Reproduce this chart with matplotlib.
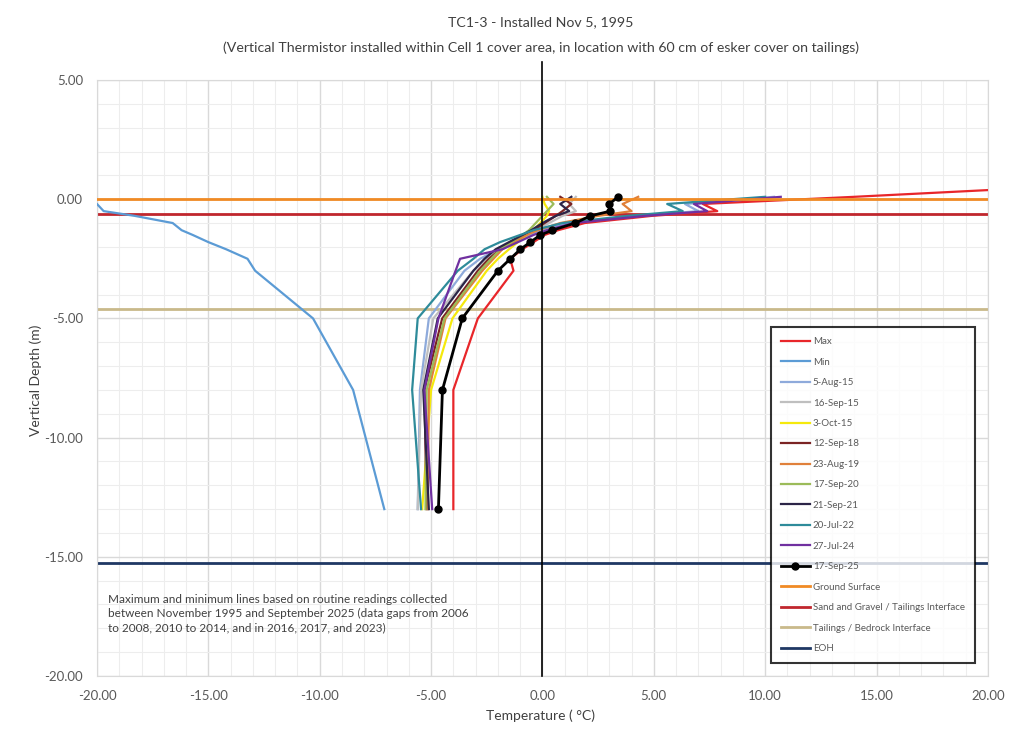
import numpy as np
import matplotlib
matplotlib.use("Agg")
import matplotlib.pyplot as plt
from matplotlib.ticker import MultipleLocator, FormatStrFormatter

plt.rcParams['font.family'] = ['Lato', 'DejaVu Sans']

# thermistor node depths (m); first node only used by the Max line
depth = [0.5, 0.1, -0.2, -0.5, -0.7, -1.0, -1.3, -1.5, -1.8, -2.1, -2.5, -3.0, -5.0, -8.0, -13.0]
nan = np.nan

max_temp = [22.5, 14.0, 7.2, 7.85, 4.9, 1.9, 0.7, 0.1, -0.4, -0.9, -1.45, -1.3, -2.9, -4.0, -4.0]
min_temp = [nan, -20.5, -20.0, -19.7, -18.3, -16.6, -16.2, -15.7, -15.0, -14.2, -13.24, -12.9, -10.3, -8.5, -7.1]

profile_labels = ['5-Aug-15', '16-Sep-15', '3-Oct-15', '12-Sep-18', '23-Aug-19', '17-Sep-20',
                  '21-Sep-21', '20-Jul-22', '27-Jul-24', '17-Sep-25']
t_5aug15 = [nan, 10.4, 6.4, 7.0, 4.3, 1.2, 0.0, -0.5, -1.3, -2.0, -2.8, -3.5, -5.1, -5.5, -5.6]
t_16sep15 = [nan, 1.5, 1.2, 1.5, 0.9, 0.3, -0.3, -0.8, -1.4, -2.0, -2.5, -3.1, -4.9, -5.45, -5.6]
t_3oct15 = [nan, 0.0, 0.1, 0.3, 0.2, -0.1, -0.4, -0.7, -1.1, -1.5, -2.0, -2.5, -4.04, -5.0, -5.4]
t_12sep18 = [nan, 0.8, 1.3, 0.9, 0.6, 0.1, -0.4, -0.8, -1.4, -1.9, -2.4, -2.9, -4.5, -5.3, -5.2]
t_23aug19 = [nan, 4.3, 3.6, 4.0, 2.5, 0.8, -0.2, -0.7, -1.3, -1.8, -2.2, -2.7, -4.35, -5.1, -5.15]
t_17sep20 = [nan, 0.2, 0.5, 0.2, 0.0, -0.3, -0.6, -0.9, -1.4, -1.9, -2.3, -2.8, -4.4, -5.2, -5.25]
t_21sep21 = [nan, 1.3, 0.8, 1.2, 0.6, 0.0, -0.5, -0.9, -1.5, -2.1, -2.6, -3.1, -4.7, -5.35, -5.1]
t_20jul22 = [nan, 10.0, 5.6, 6.3, 3.8, 0.9, -0.4, -1.0, -1.9, -2.6, -3.1, -3.8, -5.6, -5.85, -5.45]
t_27jul24 = [nan, 10.7, 6.8, 7.4, 4.6, 1.4, 0.2, -0.4, -1.1, -1.8, -3.7, -3.9, -4.67, -5.3, -4.95]
t_17sep25 = [nan, 3.4, 3.0, 3.05, 2.15, 1.48, 0.45, -0.09, -0.54, -0.99, -1.44, -2.0, -3.6, -4.49, -4.67]
profiles = [t_5aug15, t_16sep15, t_3oct15, t_12sep18, t_23aug19, t_17sep20,
            t_21sep21, t_20jul22, t_27jul24, t_17sep25]
profile_colors = ['#8EAADB', '#BFBFBF', '#F5E90C', '#7B2424', '#E0803A', '#9BBB59',
                  '#2B2447', '#2E8B9A', '#7030A0', '#000000']

# reference lines
ref_labels = ['Ground Surface', 'Sand and Gravel / Tailings Interface', 'Tailings / Bedrock Interface', 'EOH']
ref_depths = [0.0, -0.6, -4.6, -15.25]
ref_colors = ['#F08A24', '#C0262D', '#C9B98A', '#1F3864']

note = ("Maximum and minimum lines based on routine readings collected\n"
        "between November 1995 and September 2025 (data gaps from 2006\n"
        "to 2008, 2010 to 2014, and in 2016, 2017, and 2023)")

fig = plt.figure(figsize=(10.09, 7.38), dpi=100)
ax = fig.add_axes([0.0961, 0.084, 0.883, 0.8076])

ax.plot(max_temp, depth, color='#E8262A', lw=1.6, label='Max', zorder=3)
ax.plot(min_temp, depth, color='#5B9BD5', lw=1.6, label='Min', zorder=3)
for vals, lab, col in zip(profiles, profile_labels, profile_colors):
    if lab == '17-Sep-25':
        ax.plot(vals, depth, color=col, lw=2.0, marker='o', ms=5, label=lab, zorder=5)
    else:
        ax.plot(vals, depth, color=col, lw=1.6, label=lab, zorder=3)
for d, lab, col in zip(ref_depths, ref_labels, ref_colors):
    ax.axhline(d, color=col, lw=2.0, label=lab, zorder=4 if d == 0.0 else 2)

ax.axvline(0, ymin=0, ymax=1.03, color='black', lw=1.2, clip_on=False, zorder=4)

ax.set_xlim(-20, 20)
ax.set_ylim(-20, 5)
ax.xaxis.set_major_locator(MultipleLocator(5))
ax.yaxis.set_major_locator(MultipleLocator(5))
ax.xaxis.set_minor_locator(MultipleLocator(1))
ax.yaxis.set_minor_locator(MultipleLocator(1))
ax.xaxis.set_major_formatter(FormatStrFormatter('%.2f'))
ax.yaxis.set_major_formatter(FormatStrFormatter('%.2f'))
ax.grid(which='major', color='#D9D9D9', lw=1.0, zorder=0)
ax.grid(which='minor', color='#EDEDED', lw=0.8, zorder=0)
ax.set_axisbelow(True)
ax.tick_params(which='both', length=0, labelsize=9.5, labelcolor='#595959', pad=10)
for s in ax.spines.values():
    s.set_color('#D9D9D9')

fig.text(0.536, 0.970, 'TC1-3 - Installed Nov 5, 1995', ha='center', va='center',
         fontsize=10.2, color='#404040')
fig.text(0.536, 0.936, '(Vertical Thermistor installed within Cell 1 cover area, in location with 60 cm of esker cover on tailings)',
         ha='center', va='center', fontsize=10.2, color='#404040')
fig.text(0.035, 0.485, 'Vertical Depth (m)', rotation=90, ha='center', va='center',
         fontsize=10, color='#404040')
fig.text(0.536, 0.030, 'Temperature ( °C)', ha='center', va='center', fontsize=10, color='#404040')

ax.text(0.012, 0.138, note, transform=ax.transAxes, ha='left', va='top',
        fontsize=8.5, color='#404040', linespacing=1.35)

leg = ax.legend(loc='lower right', bbox_to_anchor=(0.985, 0.022), fontsize=7,
                frameon=True, fancybox=False, labelspacing=1.18, handlelength=3.0,
                handletextpad=0.3, borderpad=1.0, borderaxespad=0)
leg.get_frame().set_edgecolor('black')
leg.get_frame().set_linewidth(1.5)
for t in leg.get_texts():
    t.set_color('#595959')
leg.set_zorder(10)

fig.savefig('out.png', dpi=100)
